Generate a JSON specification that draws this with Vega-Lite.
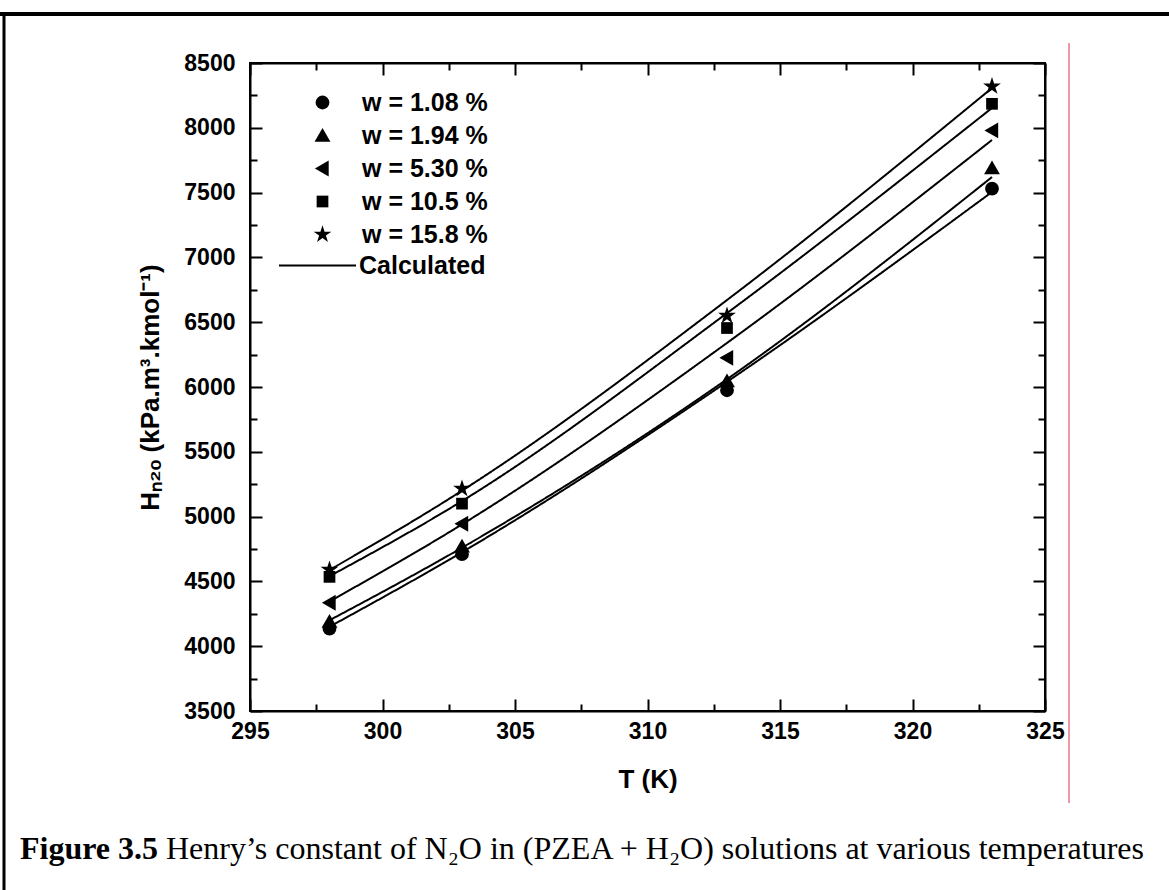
{
  "$schema": "https://vega.github.io/schema/vega-lite/v6.json",
  "width": 795,
  "height": 648,
  "autosize": {"type": "none"},
  "padding": {"left": 250, "top": 63, "right": 124, "bottom": 179},
  "background": "white",
  "config": {
    "view": {"stroke": "black", "strokeWidth": 2, "fill": "white"},
    "font": "Liberation Sans"
  },
  "datasets": {
    "calc": [
      {"T": 298, "H": 4150, "series": "w = 1.08 %", "type": "Calculated"},
      {"T": 303, "H": 4725, "series": "w = 1.08 %", "type": "Calculated"},
      {"T": 313, "H": 6040, "series": "w = 1.08 %", "type": "Calculated"},
      {"T": 323, "H": 7505, "series": "w = 1.08 %", "type": "Calculated"},
      {"T": 298, "H": 4200, "series": "w = 1.94 %", "type": "Calculated"},
      {"T": 303, "H": 4760, "series": "w = 1.94 %", "type": "Calculated"},
      {"T": 313, "H": 6060, "series": "w = 1.94 %", "type": "Calculated"},
      {"T": 323, "H": 7620, "series": "w = 1.94 %", "type": "Calculated"},
      {"T": 298, "H": 4345, "series": "w = 5.30 %", "type": "Calculated"},
      {"T": 303, "H": 4940, "series": "w = 5.30 %", "type": "Calculated"},
      {"T": 313, "H": 6340, "series": "w = 5.30 %", "type": "Calculated"},
      {"T": 323, "H": 7906, "series": "w = 5.30 %", "type": "Calculated"},
      {"T": 298, "H": 4540, "series": "w = 10.5 %", "type": "Calculated"},
      {"T": 303, "H": 5120, "series": "w = 10.5 %", "type": "Calculated"},
      {"T": 313, "H": 6570, "series": "w = 10.5 %", "type": "Calculated"},
      {"T": 323, "H": 8153, "series": "w = 10.5 %", "type": "Calculated"},
      {"T": 298, "H": 4588, "series": "w = 15.8 %", "type": "Calculated"},
      {"T": 303, "H": 5200, "series": "w = 15.8 %", "type": "Calculated"},
      {"T": 313, "H": 6671, "series": "w = 15.8 %", "type": "Calculated"},
      {"T": 323, "H": 8307, "series": "w = 15.8 %", "type": "Calculated"}
    ],
    "meas": [
      {"T": 298, "H": 4135, "series": "w = 1.08 %"},
      {"T": 303, "H": 4710, "series": "w = 1.08 %"},
      {"T": 313, "H": 5975, "series": "w = 1.08 %"},
      {"T": 323, "H": 7530, "series": "w = 1.08 %"},
      {"T": 298, "H": 4190, "series": "w = 1.94 %"},
      {"T": 303, "H": 4770, "series": "w = 1.94 %"},
      {"T": 313, "H": 6045, "series": "w = 1.94 %"},
      {"T": 323, "H": 7690, "series": "w = 1.94 %"},
      {"T": 298, "H": 4335, "series": "w = 5.30 %"},
      {"T": 303, "H": 4945, "series": "w = 5.30 %"},
      {"T": 313, "H": 6225, "series": "w = 5.30 %"},
      {"T": 323, "H": 7980, "series": "w = 5.30 %"},
      {"T": 298, "H": 4535, "series": "w = 10.5 %"},
      {"T": 303, "H": 5100, "series": "w = 10.5 %"},
      {"T": 313, "H": 6455, "series": "w = 10.5 %"},
      {"T": 323, "H": 8185, "series": "w = 10.5 %"},
      {"T": 298, "H": 4590, "series": "w = 15.8 %"},
      {"T": 303, "H": 5215, "series": "w = 15.8 %"},
      {"T": 313, "H": 6550, "series": "w = 15.8 %"},
      {"T": 323, "H": 8320, "series": "w = 15.8 %"}
    ]
  },
  "resolve": {"axis": {"x": "independent", "y": "independent"}},
  "layer": [
    {
      "data": {"name": "calc"},
      "mark": {"type": "line", "color": "black", "strokeWidth": 2, "interpolate": "monotone"},
      "encoding": {
        "x": {
          "field": "T", "type": "quantitative",
          "scale": {"domain": [295, 325], "nice": false, "zero": false},
          "axis": {
            "orient": "bottom",
            "values": [295, 297.5, 300, 302.5, 305, 307.5, 310, 312.5, 315, 317.5, 320, 322.5, 325],
            "labelExpr": "datum.value % 5 === 0 ? datum.label : ''",
            "format": "d",
            "grid": false,
            "labelFlush": false,
            "labelOverlap": false,
            "labelFont": "Liberation Sans", "labelFontWeight": "bold", "labelFontSize": 23, "labelColor": "black",
            "labelPadding": 21,
            "tickColor": "black", "tickWidth": 2,
            "tickSize": {"condition": {"test": "datum.value % 5 === 0", "value": -12}, "value": -7},
            "domainColor": "black", "domainWidth": 2,
            "title": "T (K)", "titleFont": "Liberation Sans", "titleFontWeight": "bold", "titleFontSize": 26, "titleColor": "black", "titlePadding": 18
          }
        },
        "y": {
          "field": "H", "type": "quantitative",
          "scale": {"domain": [3500, 8500], "nice": false, "zero": false},
          "axis": {
            "orient": "left",
            "values": [3500, 3750, 4000, 4250, 4500, 4750, 5000, 5250, 5500, 5750, 6000, 6250, 6500, 6750, 7000, 7250, 7500, 7750, 8000, 8250, 8500],
            "labelExpr": "datum.value % 500 === 0 ? datum.label : ''",
            "format": "d",
            "grid": false,
            "labelFlush": false,
            "labelOverlap": false,
            "labelFont": "Liberation Sans", "labelFontWeight": "bold", "labelFontSize": 23, "labelColor": "black",
            "labelPadding": 27,
            "tickColor": "black", "tickWidth": 2,
            "tickSize": {"condition": {"test": "datum.value % 500 === 0", "value": -12}, "value": -7},
            "domainColor": "black", "domainWidth": 2,
            "title": "Hₙ₂ₒ (kPa.m³.kmol⁻¹)", "titleFont": "Liberation Sans", "titleFontWeight": "bold", "titleFontSize": 26, "titleColor": "black", "titlePadding": 20
          }
        },
        "detail": {"field": "series"},
        "strokeDash": {
          "field": "type", "type": "nominal",
          "scale": {"domain": ["Calculated"], "range": [[1, 0]]},
          "legend": {
            "orient": "none", "legendX": 28, "legendY": 163, "padding": 0,
            "title": null,
            "symbolType": "stroke", "symbolSize": 5929, "symbolStrokeWidth": 2, "symbolStrokeColor": "black",
            "labelFont": "Liberation Sans", "labelFontWeight": "bold", "labelFontSize": 25, "labelColor": "black",
            "labelOffset": 2
          }
        }
      }
    },
    {
      "data": {"name": "meas"},
      "mark": {"type": "point", "filled": true, "color": "black", "opacity": 1, "size": 190},
      "encoding": {
        "x": {
          "field": "T", "type": "quantitative",
          "scale": {"domain": [295, 325], "nice": false, "zero": false},
          "axis": {
            "orient": "top",
            "values": [295, 297.5, 300, 302.5, 305, 307.5, 310, 312.5, 315, 317.5, 320, 322.5, 325],
            "labels": false, "grid": false, "title": null,
            "tickColor": "black", "tickWidth": 2,
            "tickSize": {"condition": {"test": "datum.value % 5 === 0", "value": -12}, "value": -7},
            "domainColor": "black", "domainWidth": 2
          }
        },
        "y": {
          "field": "H", "type": "quantitative",
          "scale": {"domain": [3500, 8500], "nice": false, "zero": false},
          "axis": {
            "orient": "right",
            "values": [3500, 3750, 4000, 4250, 4500, 4750, 5000, 5250, 5500, 5750, 6000, 6250, 6500, 6750, 7000, 7250, 7500, 7750, 8000, 8250, 8500],
            "labels": false, "grid": false, "title": null,
            "tickColor": "black", "tickWidth": 2,
            "tickSize": {"condition": {"test": "datum.value % 500 === 0", "value": -12}, "value": -7},
            "domainColor": "black", "domainWidth": 2
          }
        },
        "shape": {
          "field": "series", "type": "nominal",
          "scale": {
            "domain": ["w = 1.08 %", "w = 1.94 %", "w = 5.30 %", "w = 10.5 %", "w = 15.8 %"],
            "range": [
              "circle",
              "M0,-1.1L1.15,0.9L-1.15,0.9Z",
              "M-1.1,0L0.9,-1.15L0.9,1.15Z",
              "M-0.85,-0.85L0.85,-0.85L0.85,0.85L-0.85,0.85Z",
              "M0,-1.35L0.303,-0.417L1.284,-0.417L0.49,0.159L0.794,1.092L0,0.516L-0.794,1.092L-0.49,0.159L-1.284,-0.417L-0.303,-0.417Z"
            ]
          },
          "legend": {
            "orient": "none", "legendX": 60, "legendY": 27, "padding": 0,
            "title": null,
            "symbolSize": 190, "symbolFillColor": "black", "symbolStrokeColor": "black", "symbolStrokeWidth": 0,
            "labelFont": "Liberation Sans", "labelFontWeight": "bold", "labelFontSize": 25, "labelColor": "black",
            "labelOffset": 27, "rowPadding": 7
          }
        }
      }
    },
    {
      "data": {"values": [{}]},
      "mark": {"type": "rule", "color": "black", "strokeWidth": 4},
      "encoding": {
        "x": {"datum": 285.5, "type": "quantitative", "scale": {"domain": [295, 325], "nice": false, "zero": false}, "axis": null},
        "x2": {"datum": 330},
        "y": {"datum": 8878, "type": "quantitative", "scale": {"domain": [3500, 8500], "nice": false, "zero": false}, "axis": null}
      }
    },
    {
      "data": {"values": [{}]},
      "mark": {"type": "rule", "color": "black", "strokeWidth": 3},
      "encoding": {
        "x": {"datum": 285.717, "type": "quantitative", "scale": {"domain": [295, 325], "nice": false, "zero": false}, "axis": null},
        "y": {"datum": 8878, "type": "quantitative", "scale": {"domain": [3500, 8500], "nice": false, "zero": false}, "axis": null},
        "y2": {"datum": 2100}
      }
    },
    {
      "data": {"values": [{}]},
      "mark": {"type": "rule", "color": "#e0304a", "strokeWidth": 1},
      "encoding": {
        "x": {"datum": 325.906, "type": "quantitative", "scale": {"domain": [295, 325], "nice": false, "zero": false}, "axis": null},
        "y": {"datum": 8654, "type": "quantitative", "scale": {"domain": [3500, 8500], "nice": false, "zero": false}, "axis": null},
        "y2": {"datum": 2790}
      }
    },
    {
      "data": {"values": [{}]},
      "mark": {"type": "text", "text": "Figure 3.5", "font": "Liberation Serif", "fontWeight": "bold", "fontSize": 32, "align": "left", "baseline": "middle", "color": "black"},
      "encoding": {
        "x": {"datum": 286.32, "type": "quantitative", "scale": {"domain": [295, 325], "nice": false, "zero": false}, "axis": null},
        "y": {"datum": 2435, "type": "quantitative", "scale": {"domain": [3500, 8500], "nice": false, "zero": false}, "axis": null}
      }
    },
    {
      "data": {"values": [{}]},
      "mark": {"type": "text", "text": "Henry’s constant of N₂O in (PZEA + H₂O) solutions at various temperatures", "font": "Liberation Serif", "fontSize": 32, "align": "left", "baseline": "middle", "color": "black"},
      "encoding": {
        "x": {"datum": 291.83, "type": "quantitative", "scale": {"domain": [295, 325], "nice": false, "zero": false}, "axis": null},
        "y": {"datum": 2435, "type": "quantitative", "scale": {"domain": [3500, 8500], "nice": false, "zero": false}, "axis": null}
      }
    }
  ]
}
